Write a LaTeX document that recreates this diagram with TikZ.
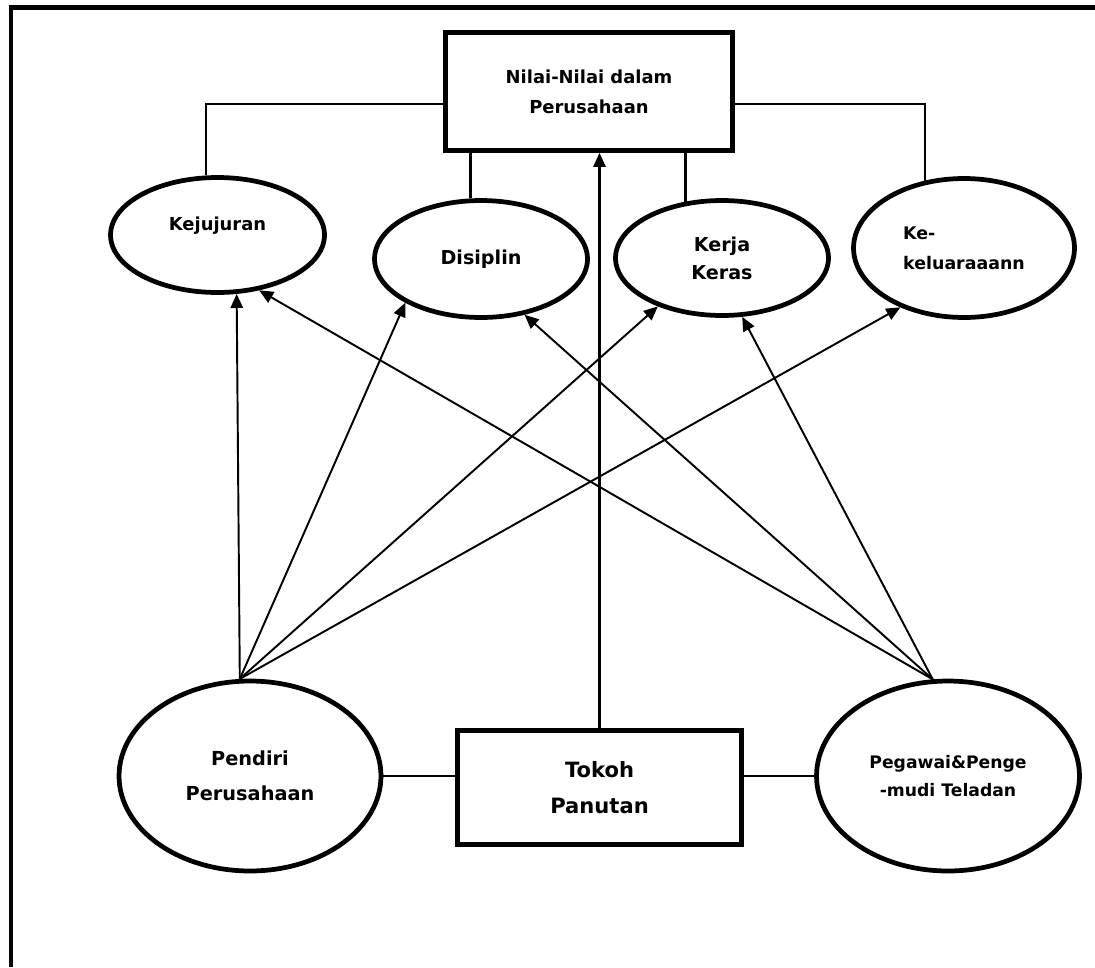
\documentclass[tikz,border=0pt]{standalone}
\usepackage{fontspec}
\setmainfont{DejaVu Sans}
\usetikzlibrary{shapes.geometric,arrows.meta}

\begin{document}
\begin{tikzpicture}[x=0.02cm, y=-0.02cm,
	val/.style={draw, ellipse, line width=2.7pt, align=center, inner sep=0pt},
	box/.style={draw, rectangle, line width=2.7pt, align=center},
	link/.style={line width=1.6pt},
	arr/.style={-{Triangle[length=8pt,width=7pt]}, line width=1.1pt}]
	\useasboundingbox (0,0) rectangle (1095,967);
	\draw[line width=2.6pt] (11,967) -- (11,7.5) -- (1095,7.5);

	\node[box, minimum width=5.74cm, minimum height=2.36cm,
		font=\bfseries\fontsize{10.2}{17}\selectfont] (nilai) at (589,91.5) {Nilai-Nilai dalam\\Perusahaan};

	\node[val, minimum width=4.28cm, minimum height=2.3cm,
		font=\bfseries\fontsize{10.2}{17}\selectfont] (kej) at (217.5,235) {Kejujuran\\[-4pt]\mbox{}};
	\node[val, minimum width=4.26cm, minimum height=2.34cm,
		font=\bfseries\fontsize{10.9}{16}\selectfont] (dis) at (481,259) {Disiplin};
	\node[val, minimum width=4.26cm, minimum height=2.3cm,
		font=\bfseries\fontsize{10.9}{16}\selectfont] (ker) at (722,258) {Kerja\\Keras};
	\node[val, minimum width=4.42cm, minimum height=2.78cm, align=left,
		font=\bfseries\fontsize{9.9}{17}\selectfont] (kel) at (964,248) {Ke-\\keluaraaann};

	\node[val, minimum width=5.24cm, minimum height=3.8cm,
		font=\bfseries\fontsize{11}{20}\selectfont] (pen) at (250,776) {Pendiri\\Perusahaan};
	\node[box, minimum width=5.68cm, minimum height=2.28cm,
		font=\bfseries\fontsize{12}{20.4}\selectfont] (tok) at (599.5,787.5) {Tokoh\\Panutan};
	\node[val, minimum width=5.26cm, minimum height=3.8cm,
		font=\bfseries\fontsize{9.8}{16}\selectfont] (peg) at (948,776) {Pegawai\&Penge\\-mudi Teladan};

	\draw[link] ([yshift=-0.25cm]nilai.west) -| (kej.101);
	\draw[link] ([yshift=-0.25cm]nilai.east) -| (kel.120);
	\draw[link] (dis.100) -- (dis.100 |- nilai.south);
	\draw[link] (ker.123) -- (ker.123 |- nilai.south);

	\draw[link] (pen.east) -- (pen.east -| tok.west);
	\draw[link] (peg.west) -- (peg.west -| tok.east);

	\draw[arr, line width=1.2pt] (tok.north) -- (tok.north |- nilai.south);

	\foreach \a / \t / \b in {96/kej/-72, 96/dis/-150, 96/ker/-143, 96/kel/-137}
	{
		\draw[arr] (pen.\a) -- (\t.\b);
	};
	\foreach \a / \t / \b in {99/kej/-53, 99/dis/-52, 99/ker/-71}
	{
		\draw[arr] (peg.\a) -- (\t.\b);
	};
\end{tikzpicture}
\end{document}
